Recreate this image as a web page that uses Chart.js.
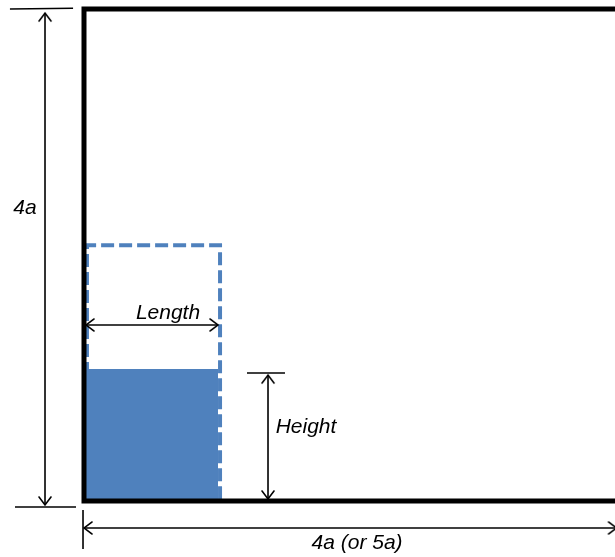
<!DOCTYPE html>
<html>
<head>
<meta charset="utf-8">
<script src="https://cdn.jsdelivr.net/npm/chart.js@4/dist/chart.umd.min.js"></script>
<style>
  html, body { margin: 0; padding: 0; background: #fff; }
  #wrap { width: 615px; height: 557px; }
</style>
</head>
<body>
<div id="wrap"><canvas id="diagram" width="615" height="557"></canvas></div>
<script>
// all values in units of "a" (tank is 4a high)
const wallX = [5, 0, 0, 5];
const wallY = [0, 0, 4, 4];

const waterX = [0, 1.09];
const waterY = [1.073, 1.073];

const initColX = [0.024, 0.024, 1.106, 1.106];
const initColY = [0, 2.08, 2.08, 0];

// dimension lines (two end points each, arrow heads at both ends)
const dimVertX = [-0.317, -0.317];
const dimVertY = [3.967, -0.033];
const dimHorzX = [0.0, 4.33];
const dimHorzY = [-0.2195, -0.2195];
const dimLenX = [0.016, 1.09];
const dimLenY = [1.431, 1.431];
const dimHgtX = [1.496, 1.496];
const dimHgtY = [1.024, 0.016];

// extension (tick) lines
const extTopX = [-0.602, -0.089];
const extTopY = [4.0, 4.006];
const extBotX = [-0.561, -0.065];
const extBotY = [-0.049, -0.049];
const extLeftX = [-0.008, -0.008];
const extLeftY = [-0.073, -0.39];
const extHgtX = [1.325, 1.634];
const extHgtY = [1.041, 1.041];

const labelText = ['4a', 'Length', 'Height', '4a (or 5a)'];
const labelX = [-0.48, 0.683, 1.805, 2.22];
const labelY = [2.382, 1.528, 0.602, -0.341];

const pts = (xs, ys) => xs.map((x, i) => ({ x: x, y: ys[i] }));

// open arrow head, tip at the image centre, pointing up
function makeArrowHead() {
    const c = document.createElement('canvas');
    c.width = 24;
    c.height = 24;
    const g = c.getContext('2d');
    g.strokeStyle = '#000';
    g.lineWidth = 1.6;
    g.lineCap = 'round';
    g.beginPath();
    g.moveTo(6, 20);
    g.lineTo(12, 12);
    g.lineTo(18, 20);
    g.stroke();
    return c;
}
const arrowHead = makeArrowHead();

function dimLine(xs, ys, rotations) {
    return {
        data: pts(xs, ys),
        showLine: true,
        clip: false,
        borderColor: '#000',
        borderWidth: 1.6,
        pointStyle: arrowHead,
        pointRadius: 6,
        pointRotation: rotations,
        order: 1
    };
}

function extLine(xs, ys) {
    return {
        data: pts(xs, ys),
        showLine: true,
        clip: false,
        borderColor: '#000',
        borderWidth: 1.6,
        pointRadius: 0,
        order: 1
    };
}

const labelPlugin = {
    id: 'labels',
    afterDatasetsDraw(chart) {
        const ctx = chart.ctx;
        const sx = chart.scales.x, sy = chart.scales.y;
        ctx.save();
        ctx.fillStyle = '#000';
        ctx.font = 'italic 21px "Liberation Sans", Arial, sans-serif';
        ctx.textAlign = 'center';
        ctx.textBaseline = 'middle';
        labelText.forEach((t, i) => {
            ctx.fillText(t, sx.getPixelForValue(labelX[i]), sy.getPixelForValue(labelY[i]));
        });
        ctx.restore();
    }
};

new Chart(document.getElementById('diagram'), {
    type: 'scatter',
    data: {
        datasets: [
            {
                // water column
                data: pts(waterX, waterY),
                showLine: true,
                borderWidth: 0,
                borderColor: 'rgba(0,0,0,0)',
                backgroundColor: '#4f81bd',
                fill: 'origin',
                pointRadius: 0,
                order: 4
            },
            {
                // initial column outline
                data: pts(initColX, initColY),
                showLine: true,
                clip: false,
                borderColor: '#4f81bd',
                borderWidth: 4,
                borderDash: [13, 5],
                pointRadius: 0,
                order: 3
            },
            {
                // tank walls
                data: pts(wallX, wallY),
                showLine: true,
                clip: false,
                borderColor: '#000',
                borderWidth: 5,
                borderJoinStyle: 'miter',
                pointRadius: 0,
                order: 2
            },
            dimLine(dimVertX, dimVertY, [0, 180]),
            dimLine(dimHorzX, dimHorzY, [270, 90]),
            dimLine(dimLenX, dimLenY, [270, 90]),
            dimLine(dimHgtX, dimHgtY, [0, 180]),
            extLine(extTopX, extTopY),
            extLine(extBotX, extBotY),
            extLine(extLeftX, extLeftY),
            extLine(extHgtX, extHgtY)
        ]
    },
    options: {
        responsive: false,
        animation: false,
        layout: { padding: 0, autoPadding: false },
        plugins: {
            legend: { display: false },
            tooltip: { enabled: false }
        },
        scales: {
            x: { type: 'linear', display: false, min: -0.6829, max: 4.317 },
            y: { type: 'linear', display: false, min: -0.4553, max: 4.0732 }
        }
    },
    plugins: [labelPlugin]
});
</script>
</body>
</html>
